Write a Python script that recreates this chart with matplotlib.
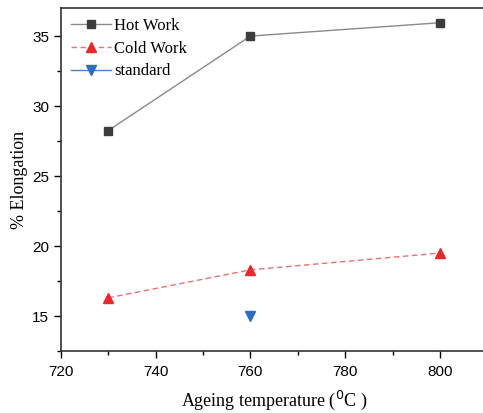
import matplotlib
matplotlib.use("Agg")
import matplotlib.pyplot as plt
from matplotlib.ticker import MultipleLocator

temps_hot = [730, 760, 800]
hot_work = [28.25, 35.0, 35.95]
temps_cold = [730, 760, 800]
cold_work = [16.3, 18.3, 19.5]
temps_std = [760]
standard = [15.0]

fig = plt.figure(figsize=(4.83, 4.13), dpi=100)
ax = fig.add_axes([0.126, 0.150, 0.883, 0.8305])

ax.plot(temps_hot, hot_work, color='#8a8a8a', lw=1.0, marker='s', ms=6,
        mfc='#3c3c3c', mec='#3c3c3c', label='Hot Work')
ax.plot(temps_cold, cold_work, color='#f07070', lw=1.0, ls=(0, (4, 2.5)), marker='^', ms=7,
        mfc='#e8282a', mec='#e8282a', label='Cold Work')
ax.plot(temps_std, standard, color='#4a7fd0', lw=1.0, marker='v', ms=7,
        mfc='#2f6bc0', mec='#2f6bc0', label='standard')

ax.set_xlim(720, 810)
ax.set_ylim(12.5, 37)
ax.xaxis.set_major_locator(MultipleLocator(20))
ax.xaxis.set_minor_locator(MultipleLocator(10))
ax.yaxis.set_major_locator(MultipleLocator(5))
ax.yaxis.set_minor_locator(MultipleLocator(2.5))
ax.tick_params(which='major', direction='out', length=5, width=1, labelsize=11)
ax.tick_params(axis='x', which='major', pad=5)
ax.tick_params(which='minor', direction='out', length=3, width=1)
for lab in ax.get_xticklabels() + ax.get_yticklabels():
    lab.set_family('Liberation Sans')
for s in ax.spines.values():
    s.set_linewidth(1.2)
    s.set_color('#333333')

ax.set_xlabel('Ageing temperature ($^{0}$C )', family='Liberation Serif', fontsize=13, labelpad=7)
ax.set_ylabel('% Elongation', family='Liberation Serif', fontsize=13, labelpad=3)

leg = ax.legend(loc='upper left', frameon=False, prop={'family': 'Liberation Serif', 'size': 12},
                handlelength=2.4, borderaxespad=0.2, labelspacing=0.4, handletextpad=0.2)

fig.savefig('out.png', dpi=100)
